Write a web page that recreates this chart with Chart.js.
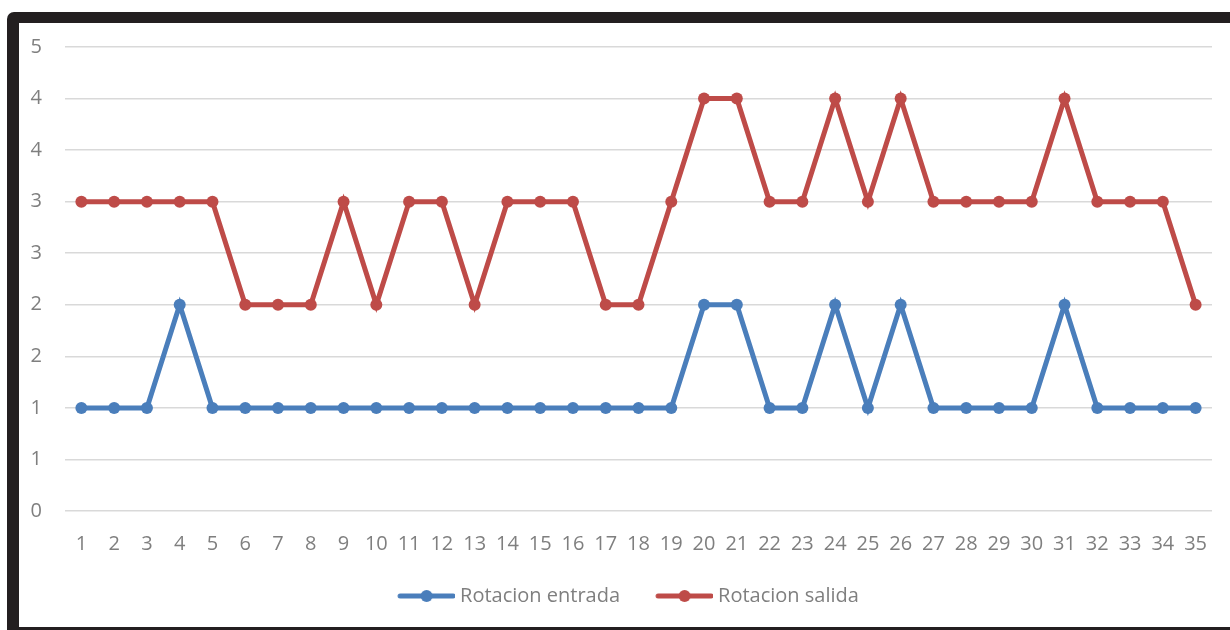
<!DOCTYPE html>
<html>
<head>
<meta charset="utf-8">
<script src="https://cdn.jsdelivr.net/npm/chart.js@4.4.1/dist/chart.umd.min.js"></script>
<style>
  html, body { margin: 0; padding: 0; background: #ffffff; width: 1230px; height: 630px; overflow: hidden; }
  #frame { position: absolute; left: 7px; top: 12px; width: 1240px; height: 640px; background: #231f20; border-top-left-radius: 7px; }
  #panel { position: absolute; left: 19px; top: 23px; width: 1211px; height: 604px; background: #ffffff; }
  #chart { display: block; }
</style>
</head>
<body>
<div id="frame"></div>
<div id="panel"><canvas id="chart" width="1211" height="604"></canvas></div>
<script>
// Day numbers along the horizontal axis
const categories = ['1','2','3','4','5','6','7','8','9','10','11','12','13','14','15','16','17','18','19','20','21','22','23','24','25','26','27','28','29','30','31','32','33','34','35'];

// Rotation counts per day
const rotacionEntrada = [1,1,1,2,1,1,1,1,1,1,1,1,1,1,1,1,1,1,1,2,2,1,1,2,1,2,1,1,1,1,2,1,1,1,1];
const rotacionSalida  = [3,3,3,3,3,2,2,2,3,2,3,3,2,3,3,3,2,2,3,4,4,3,3,4,3,4,3,3,3,3,4,3,3,3,2];

// Vertical axis: gridlines every half unit, labels shown without decimals
const yTickValues = [0, 0.5, 1, 1.5, 2, 2.5, 3, 3.5, 4, 4.5];
const yTickLabels = ['0','1','1','2','2','3','3','4','4','5'];

const BLUE = '#4a7ebb';
const RED = '#be4b48';
const FONT = "'Open Sans', 'Liberation Sans', sans-serif";
const TEXT = '#7f7f7f';

// Legend sample: a short line with a marker in the middle, drawn on the
// right-hand part of a wider transparent image so it sits next to its text
function legendSample(color) {
  const c = document.createElement('canvas');
  c.width = 88; c.height = 14;
  const g = c.getContext('2d');
  g.strokeStyle = color;
  g.lineWidth = 5;
  g.lineCap = 'round';
  g.beginPath(); g.moveTo(33, 7); g.lineTo(86, 7); g.stroke();
  g.fillStyle = color;
  g.beginPath(); g.arc(59.5, 7, 6, 0, Math.PI * 2); g.fill();
  return c;
}

const series = [
  { label: 'Rotacion entrada', data: rotacionEntrada, color: BLUE },
  { label: 'Rotacion salida', data: rotacionSalida, color: RED }
];

new Chart(document.getElementById('chart'), {
  type: 'line',
  data: {
    labels: categories,
    datasets: series.map(s => ({
      label: s.label,
      data: s.data,
      borderColor: s.color,
      backgroundColor: s.color,
      borderWidth: 5,
      pointRadius: 6,
      pointHoverRadius: 6,
      pointBorderWidth: 0,
      pointStyle: 'circle',
      tension: 0,
      fill: false,
      _sample: legendSample(s.color)
    }))
  },
  options: {
    responsive: false,
    animation: false,
    events: [],
    layout: { padding: { left: 0, right: 18, top: 24, bottom: 11 } },
    scales: {
      x: {
        type: 'category',
        offset: true,
        grid: { display: false, drawTicks: false },
        border: { display: false },
        ticks: { color: TEXT, font: { family: FONT, size: 20 }, padding: 21, maxRotation: 0, autoSkip: false },
        afterFit: axis => { axis.height = 65; axis.paddingLeft = 0; axis.paddingRight = 0; }
      },
      y: {
        min: 0,
        max: 4.5,
        afterBuildTicks: axis => { axis.ticks = yTickValues.map(v => ({ value: v })); },
        grid: { color: '#d9d9d9', lineWidth: 1.6, drawTicks: false },
        border: { display: false },
        ticks: {
          color: TEXT,
          font: { family: FONT, size: 20 },
          padding: 23,
          callback: (v, i) => yTickLabels[i]
        },
        afterFit: axis => { axis.width = 46; axis.paddingTop = 0; axis.paddingBottom = 0; }
      }
    },
    plugins: {
      tooltip: { enabled: false },
      legend: {
        position: 'bottom',
        labels: {
          usePointStyle: true,
          pointStyleWidth: 78,
          padding: 10,
          color: TEXT,
          font: { family: FONT, size: 20 },
          generateLabels: chart => chart.data.datasets.map((ds, i) => ({
            text: ds.label,
            pointStyle: ds._sample,
            fillStyle: ds.borderColor,
            strokeStyle: ds.borderColor,
            lineWidth: 0,
            hidden: false,
            datasetIndex: i,
            fontColor: TEXT
          }))
        }
      }
    }
  }
});
</script>
</body>
</html>
